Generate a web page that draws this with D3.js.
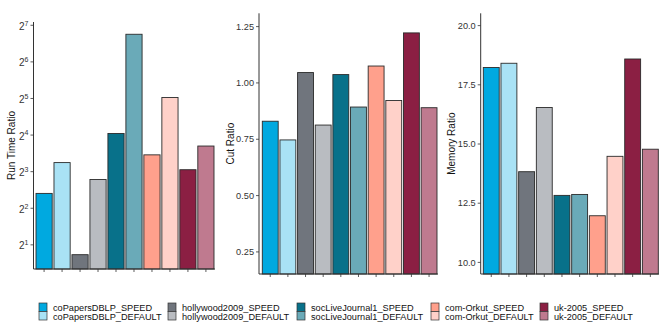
<!DOCTYPE html>
<html>
<head>
<meta charset="utf-8">
<script src="https://cdn.jsdelivr.net/npm/d3@7"></script>
<style>
  body { margin: 0; background: #fff; }
  svg text { font-family: "Liberation Sans", Arial, sans-serif; }
</style>
</head>
<body>
<div id="chart"></div>
<script>
// graphs and configurations, in drawing order
const graphs = ["coPapersDBLP", "hollywood2009", "socLiveJournal1", "com-Orkut", "uk-2005"];
const configs = ["SPEED", "DEFAULT"];
const series = graphs.flatMap(g => configs.map(c => g + "_" + c));

const speedColors = ["#00a9e0", "#70757d", "#08718a", "#ffa08c", "#8b1f43"];
const defaultColors = ["#a9e2f5", "#b9bcc1", "#6aaab8", "#ffd1c9", "#bf7a8f"];

// values, same order as series
const runTime = [5.3, 9.5, 1.66, 6.9, 16.5, 108, 11, 32.6, 8.3, 13];
const cutRatio = [0.83, 0.747, 1.046, 0.813, 1.037, 0.893, 1.075, 0.922, 1.222, 0.89];
const memRatio = [18.23, 18.41, 13.83, 16.54, 12.83, 12.87, 11.97, 14.48, 18.59, 14.78];

const runTicks = [2, 4, 8, 16, 32, 64, 128];
const cutTicks = [0.25, 0.5, 0.75, 1.0, 1.25];
const memTicks = [10, 12.5, 15, 17.5, 20];

const width = 664, height = 332;
const color = d3.scaleOrdinal()
  .domain(series)
  .range(graphs.flatMap((g, i) => [speedColors[i], defaultColors[i]]));

const svg = d3.select("#chart").append("svg")
  .attr("width", width)
  .attr("height", height);

const panels = [
  { values: runTime, title: "Run Time Ratio", axisX: 33.5, barL: 36, barR: 214, right: 215,
    top: 22, bottom: 269, ticks: runTicks, titleX: 11, log: true,
    y: d3.scaleLog().base(2).domain([Math.pow(2, 0.34), Math.pow(2, 7.09)]).range([269, 22]) },
  { values: cutRatio, title: "Cut Ratio", axisX: 259, barL: 262.3, barR: 437, right: 438,
    top: 13.3, bottom: 274, ticks: cutTicks, titleX: 230, fmt: d3.format(".2f"),
    y: d3.scaleLinear().domain([0.152, 1.309]).range([274, 13.3]) },
  { values: memRatio, title: "Memory Ratio", axisX: 480.7, barL: 483.3, barR: 658.3, right: 659,
    top: 13.3, bottom: 274, ticks: memTicks, titleX: 451, fmt: d3.format(".1f"),
    y: d3.scaleLinear().domain([9.51, 20.52]).range([274, 13.3]) }
];

panels.forEach(p => {
  const x = d3.scaleBand()
    .domain(series)
    .range([p.barL, p.barR])
    .paddingInner(0.1)
    .paddingOuter(0);

  const g = svg.append("g");

  // bars
  g.selectAll("rect")
    .data(series)
    .enter()
    .append("rect")
    .attr("x", d => x(d))
    .attr("width", x.bandwidth())
    .attr("y", (d, i) => p.y(p.values[i]))
    .attr("height", (d, i) => p.bottom - p.y(p.values[i]))
    .attr("fill", d => color(d))
    .attr("stroke", "#2a2a2a")
    .attr("stroke-width", 0.9);

  // axis lines
  g.append("line")
    .attr("x1", p.axisX).attr("x2", p.axisX)
    .attr("y1", p.top).attr("y2", p.bottom)
    .attr("stroke", "#333").attr("stroke-width", 1);
  g.append("line")
    .attr("x1", p.axisX).attr("x2", p.right)
    .attr("y1", p.bottom).attr("y2", p.bottom)
    .attr("stroke", "#333").attr("stroke-width", 1);

  // x ticks, no labels
  g.selectAll(".xt")
    .data(series)
    .enter()
    .append("line")
    .attr("x1", d => x(d) + x.bandwidth() / 2)
    .attr("x2", d => x(d) + x.bandwidth() / 2)
    .attr("y1", p.bottom).attr("y2", p.bottom + 3)
    .attr("stroke", "#333").attr("stroke-width", 0.8);

  // y ticks
  g.selectAll(".yt")
    .data(p.ticks)
    .enter()
    .append("line")
    .attr("x1", p.axisX - 3).attr("x2", p.axisX)
    .attr("y1", d => p.y(d)).attr("y2", d => p.y(d))
    .attr("stroke", "#333").attr("stroke-width", 0.8);

  const labels = g.selectAll(".yl")
    .data(p.ticks)
    .enter()
    .append("text")
    .attr("x", p.axisX - 5)
    .attr("y", d => p.y(d))
    .attr("dy", "0.35em")
    .attr("text-anchor", "end")
    .style("font-size", "9.2px")
    .style("fill", "#333");

  if (p.log) {
    labels.attr("dy", "0.5em");
    labels.append("tspan").text("2").style("font-size", "10px");
    labels.append("tspan")
      .attr("dy", "-0.6em")
      .style("font-size", "7px")
      .text(d => Math.round(Math.log2(d)));
  } else {
    labels.text(d => p.fmt(d));
  }

  // y title
  g.append("text")
    .attr("transform", `translate(${p.titleX},${(p.top + p.bottom) / 2}) rotate(-90)`)
    .attr("text-anchor", "middle")
    .attr("dy", "0.35em")
    .style("font-size", "10px")
    .style("fill", "#111")
    .text(p.title);
});

// legend: one column per graph, SPEED over DEFAULT
const legendX = [39, 168, 297, 431, 540];
const legend = svg.append("g");
graphs.forEach((gname, i) => {
  configs.forEach((c, j) => {
    const name = gname + "_" + c;
    legend.append("rect")
      .attr("x", legendX[i])
      .attr("y", 303 + j * 8.5)
      .attr("width", 8)
      .attr("height", 8.5)
      .attr("fill", color(name))
      .attr("stroke", "#333")
      .attr("stroke-width", 0.7);
    legend.append("text")
      .attr("x", legendX[i] + 14)
      .attr("y", 307.3 + j * 9.6)
      .attr("dy", "0.35em")
      .style("font-size", "9.2px")
      .style("fill", "#111")
      .text(name);
  });
});
</script>
</body>
</html>
